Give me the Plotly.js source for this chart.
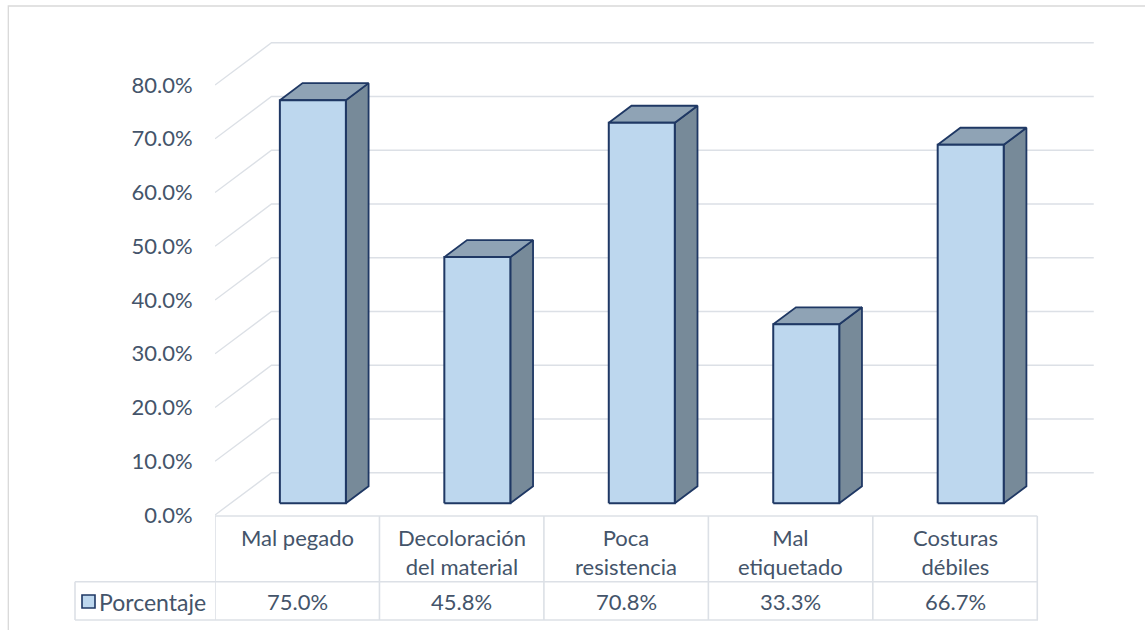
<!DOCTYPE html>
<html><head><meta charset="utf-8">
<script src="https://cdn.plot.ly/plotly-3.0.1.min.js"></script>
<style>html,body{margin:0;padding:0;background:#fff}#chart{width:1145px;height:630px}</style>
</head><body><div id="chart"></div>
<script>
// ---- data ----
const categories = ["Mal pegado", "Decoloración<br>del material", "Poca<br>resistencia", "Mal<br>etiquetado", "Costuras<br>débiles"];
const values = [75.0, 45.8, 70.8, 33.3, 66.7];
const tickValues = [0, 10, 20, 30, 40, 50, 60, 70, 80];
const seriesName = "Porcentaje";

// ---- geometry / style ----
const W = 1145, H = 630;
const plotLeft = 215;
const plotWidth = W - plotLeft;
const xRange = [-0.5, 5.155];
const yRange = [-21.395, 95.814];
const depthX = 0.3435, depthY = 7.87;     // back-wall offset (axis units)
const f0 = 0.277, f1 = 0.679, halfW = 0.2007; // bar depth span and half width
const textColor = '#44546A', gridColor = '#DCE0E6', navy = '#1F3864';
const frontFill = '#BDD7EE', topFill = '#8FA3B5', sideFill = '#778A99';
const fontFam = 'Lato, "Open Sans", sans-serif';
const fs = 22;

const px = p => (p - plotLeft) / plotWidth;   // pixel -> paper x
const py = p => 1 - p / H;                      // pixel -> paper y
const n = categories.length;

const traces = [];
// gridlines (left wall diagonal + back wall)
const gx = [], gy = [];
tickValues.forEach(v => {
  gx.push(-0.5, -0.5 + depthX, n - 0.5 + depthX, null);
  gy.push(v, v + depthY, v + depthY, null);
});
traces.push({x: gx, y: gy, mode: 'lines', line: {color: gridColor, width: 1.4},
  hoverinfo: 'skip', showlegend: false});

// 3D bars
values.forEach((v, i) => {
  const xl0 = i - halfW + f0 * depthX, xr0 = i + halfW + f0 * depthX;
  const xl1 = i - halfW + f1 * depthX, xr1 = i + halfW + f1 * depthX;
  const y0 = f0 * depthY, y1 = f1 * depthY;
  traces.push({x: [xr0, xr1, xr1, xr0, xr0], y: [y0, y1, v + y1, v + y0, y0],
    mode: 'lines', fill: 'toself', fillcolor: sideFill, line: {color: navy, width: 1.8},
    hoverinfo: 'skip', showlegend: false});
  traces.push({x: [xl0, xr0, xr1, xl1, xl0], y: [v + y0, v + y0, v + y1, v + y1, v + y0],
    mode: 'lines', fill: 'toself', fillcolor: topFill, line: {color: navy, width: 1.8},
    hoverinfo: 'skip', showlegend: false});
  traces.push({x: [xl0, xr0, xr0, xl0, xl0], y: [y0, y0, v + y0, v + y0, y0],
    mode: 'lines', fill: 'toself', fillcolor: frontFill, line: {color: navy, width: 2},
    name: seriesName, hovertemplate: '%{text}<extra></extra>', text: Array(5).fill(v.toFixed(1) + '%'),
    showlegend: false});
});

// ---- table ----
const tblColor = '#DCE0E6';
const shapes = [];
const tTop = 516, tMid = 581.7, tBot = 620, tLeft = 75, tRight = 1038;
shapes.push({type: 'line', xref: 'x', yref: 'paper', x0: -0.5, x1: n - 0.5, y0: py(tTop), y1: py(tTop), line: {color: tblColor, width: 1.6}});
shapes.push({type: 'line', xref: 'paper', yref: 'paper', x0: px(tLeft), x1: px(tRight), y0: py(tMid), y1: py(tMid), line: {color: tblColor, width: 1.6}});
shapes.push({type: 'line', xref: 'paper', yref: 'paper', x0: px(tLeft), x1: px(tRight), y0: py(tBot), y1: py(tBot), line: {color: tblColor, width: 1.6}});
shapes.push({type: 'line', xref: 'paper', yref: 'paper', x0: px(tLeft), x1: px(tLeft), y0: py(tMid), y1: py(tBot), line: {color: tblColor, width: 1.6}});
for (let i = 0; i <= n; i++) {
  shapes.push({type: 'line', xref: 'x', yref: 'paper', x0: i - 0.5, x1: i - 0.5, y0: py(tTop), y1: py(tBot), line: {color: tblColor, width: 1.6}});
}
// legend key
shapes.push({type: 'rect', xref: 'paper', yref: 'paper', x0: px(82), x1: px(95), y0: py(608), y1: py(595),
  fillcolor: frontFill, line: {color: navy, width: 1.6}});
// outer chart border
shapes.push({type: 'rect', xref: 'paper', yref: 'paper', x0: px(8.3), x1: px(1160), y0: py(6), y1: py(645),
  line: {color: '#D9D9D9', width: 1.3}, layer: 'below'});

const annotations = [];
categories.forEach((c, i) => {
  annotations.push({x: i, xref: 'x', y: py(522), yref: 'paper', yanchor: 'top', xanchor: 'center',
    text: c, showarrow: false, font: {family: fontFam, size: fs, color: textColor}});
  annotations.push({x: i, xref: 'x', y: py(601.5), yref: 'paper', yanchor: 'middle', xanchor: 'center',
    text: values[i].toFixed(1) + '%', showarrow: false, font: {family: fontFam, size: fs, color: textColor}});
});
annotations.push({x: px(97), xref: 'paper', y: py(601.5), yref: 'paper', xanchor: 'left', yanchor: 'middle',
  text: seriesName, showarrow: false, font: {family: fontFam, size: fs + 1, color: textColor}});

const layout = {
  width: W, height: H,
  margin: {l: plotLeft, r: 0, t: 0, b: 0, pad: 0},
  paper_bgcolor: '#fff', plot_bgcolor: 'rgba(0,0,0,0)',
  showlegend: false,
  font: {family: fontFam, size: fs, color: textColor},
  xaxis: {range: xRange, visible: false, fixedrange: true},
  yaxis: {range: yRange, fixedrange: true, showgrid: false, zeroline: false, showline: false,
    tickvals: tickValues, ticktext: tickValues.map(v => v.toFixed(1) + '%'),
    ticks: 'outside', ticklen: 17, tickcolor: 'rgba(0,0,0,0)',
    tickfont: {family: fontFam, size: fs, color: textColor}},
  shapes: shapes,
  annotations: annotations
};

Plotly.newPlot('chart', traces, layout, {displayModeBar: false, staticPlot: true});
</script>
</body></html>
